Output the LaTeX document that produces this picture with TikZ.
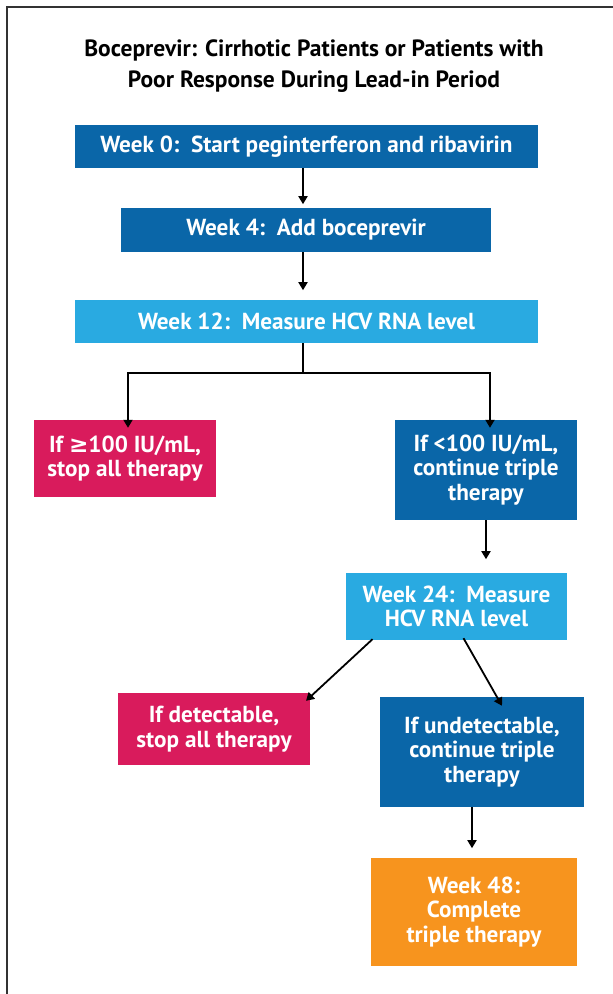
\documentclass[tikz,border=0pt]{standalone}
\usepackage{fontspec}
\setmainfont{PT Sans}
\newfontfamily\symfont{DejaVu Sans}
\usetikzlibrary{arrows.meta}
\definecolor{darkblue}{HTML}{0A66A8}
\definecolor{lightblue}{HTML}{29AAE1}
\definecolor{stopred}{HTML}{D91B5C}
\definecolor{doneorange}{HTML}{F7941E}
\begin{document}
\begin{tikzpicture}[x=1pt,y=-1pt,
  box/.style={inner sep=0pt, text=white, align=center,
    font=\bfseries\fontsize{23.2}{24.5}\selectfont},
  arr/.style={line width=1.8pt, -{Triangle[width=9pt,length=8pt]}}]
\useasboundingbox (0,0) rectangle (613,994);
% frame
\draw[line width=1.3pt, black!80] (7,994) -- (7,7) -- (613,7);
% title
\node[align=center, font=\bfseries\fontsize{23.5}{31}\selectfont] (title) at (314,66)
  {Boceprevir: Cirrhotic Patients or Patients with\\Poor Response During Lead-in Period};
% boxes
\node[box, fill=darkblue, minimum width=463pt, minimum height=43pt] (w0) at (306.5,146.5)
  {Week 0:\ \ Start peginterferon and ribavirin};
\node[box, fill=darkblue, minimum width=370pt, minimum height=44pt] (w4) at (306,230)
  {Week 4:\ \ Add boceprevir};
\node[box, fill=lightblue, minimum width=463pt, minimum height=43pt] (w12) at (306.5,321.5)
  {Week 12:\ \ Measure HCV RNA level};
\node[box, fill=stopred, minimum width=182pt, minimum height=77pt] (hi) at (125,458.5)
  {If {\symfont\bfseries ≥}100 IU/mL,\\stop all therapy};
\node[box, fill=darkblue, minimum width=182pt, minimum height=100pt] (lo) at (486,470)
  {If <100 IU/mL,\\continue triple\\therapy};
\node[box, fill=lightblue, minimum width=221pt, minimum height=67pt] (w24) at (456.5,606.5)
  {Week 24:\ \ Measure\\HCV RNA level};
\node[box, fill=stopred, minimum width=192pt, minimum height=72pt] (det) at (214,729)
  {If detectable,\\stop all therapy};
\node[box, fill=darkblue, minimum width=204pt, minimum height=110pt] (und) at (482,752)
  {If undetectable,\\continue triple\\therapy};
\node[box, fill=doneorange, minimum width=206pt, minimum height=108pt] (w48) at (474,912)
  {Week 48:\\Complete\\triple therapy};
% connectors
\coordinate (split) at (303,373);
\draw[arr] (w0.south -| split) -- ++(0,36);
\draw[arr] (w4.south -| split) -- ++(0,38);
\draw[line width=1.8pt] (w12.south -| split) -- (split);
\draw[arr] (split) -| ([yshift=-8pt]hi.north -| 128,0);
\draw[arr] (split) -| ([yshift=-8pt]lo.north -| 490,0);
\draw[arr] (lo.south) -- ++(0,39);
\draw[arr] ([xshift=-84pt,yshift=1pt]w24.south) -- ([xshift=92pt,yshift=-8pt]det.north);
\draw[arr] ([xshift=7pt,yshift=2pt]w24.south) -- ([xshift=20pt,yshift=-9pt]und.north);
\draw[arr] (und.south -| w48.north) ++(-2pt,0) -- ++(0,41);
\end{tikzpicture}
\end{document}
